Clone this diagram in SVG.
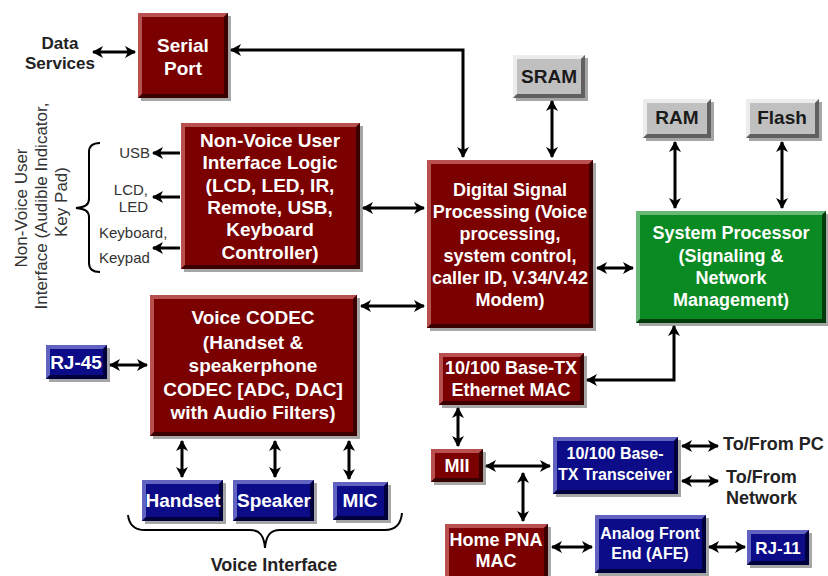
<svg xmlns="http://www.w3.org/2000/svg" width="828" height="576" viewBox="0 0 828 576">
<style>
text{font-family:"Liberation Sans",Arial,sans-serif}
.sh{fill:#000;opacity:.35}
.red{fill:#7b0000}.redL{fill:#b85050}.redD{fill:#3a0000}
.blue{fill:#0c0c88}.blueL{fill:#6262c0}.blueD{fill:#00003c}
.grn{fill:#0a8a22}.grnL{fill:#68b878}.grnD{fill:#003c0c}
.gry{fill:#c0c0c0}.gryL{fill:#ececec}.gryD{fill:#606060}
.w{fill:#fff;font-weight:bold;text-anchor:middle}
.k{fill:#1a1a1a;font-weight:bold;text-anchor:middle}
.lab{fill:#222;font-weight:bold}
.sm{fill:#333;font-size:15px}
.rot{fill:#333;font-size:17px;text-anchor:middle}
.c{fill:none;stroke:#000;stroke-width:3}
.b{fill:none;stroke:#000;stroke-width:2}
.two{marker-start:url(#ah);marker-end:url(#ah)}
.one{marker-end:url(#ah)}
</style>
<defs>
<marker id="ah" viewBox="0 0 11 12" refX="10" refY="6" markerWidth="11" markerHeight="12" markerUnits="userSpaceOnUse" orient="auto-start-reverse">
<path d="M0 0L11 6L0 12L3 6Z" fill="#000"/>
</marker>
</defs>
<rect width="828" height="576" fill="#fff"/>

<g id="connectors">
<path class="c two" d="M93 52H135"/>
<path class="c two" d="M231 50H463V157"/>
<path class="c one" d="M180 153H153"/>
<path class="c one" d="M180 197H153"/>
<path class="c one" d="M180 248H153"/>
<path class="c two" d="M363 208H424"/>
<path class="c two" d="M361 306H424"/>
<path class="c two" d="M552 101V157"/>
<path class="c two" d="M675 142V208"/>
<path class="c two" d="M782 142V208"/>
<path class="c two" d="M597 268H633"/>
<path class="c two" d="M110 365H147"/>
<path class="c two" d="M182 441V477"/>
<path class="c two" d="M275 441V477"/>
<path class="c two" d="M349 441V479"/>
<path class="c two" d="M587 380H674V326"/>
<path class="c two" d="M458 408V446"/>
<path class="c two" d="M486 466H550"/>
<path class="c two" d="M523 473V521"/>
<path class="c two" d="M682 446H718"/>
<path class="c two" d="M682 481H718"/>
<path class="c two" d="M552 547H592"/>
<path class="c two" d="M709 547H745"/>
</g>

<g id="braces">
<path class="b" d="M100 143C93 143 89 146 89 152V199C89 205 85 207 76 208C85 209 89 211 89 217V263C89 269 93 272 100 272"/>
<path class="b" d="M128 515C129 524 134 530 145 530H250C260 530 264 536 265 548C266 536 270 530 280 530H385C396 530 401 524 402 513"/>
</g>

<g id="labels">
<text class="lab" x="60" y="49" font-size="17" text-anchor="middle">Data</text>
<text class="lab" x="60" y="69" font-size="17" text-anchor="middle">Services</text>
<text class="sm" x="150" y="158" text-anchor="end">USB</text>
<text class="sm" x="148" y="195" text-anchor="end">LCD,</text>
<text class="sm" x="148" y="212" text-anchor="end">LED</text>
<text class="sm" x="99" y="238">Keyboard,</text>
<text class="sm" x="99" y="263">Keypad</text>
<text class="rot" transform="translate(27 208) rotate(-90)">Non-Voice User</text>
<text class="rot" transform="translate(47 206) rotate(-90)">Interface (Audible Indicator,</text>
<text class="rot" transform="translate(67 202) rotate(-90)">Key Pad)</text>
<text class="lab" x="274" y="571" font-size="18" text-anchor="middle">Voice Interface</text>
<text class="lab" x="723" y="450" font-size="18">To/From PC</text>
<text class="lab" x="726" y="483" font-size="18">To/From</text>
<text class="lab" x="726" y="504" font-size="18">Network</text>
</g>

<g id="serial-port">
<rect class="sh" x="141" y="16" width="90" height="85"/>
<rect class="red" x="138" y="13" width="90" height="85"/>
<path class="redL" d="M138 13h90l-4 4h-82v77l-4 4z"/><path class="redD" d="M228 13v85h-90l4-4h82v-77z"/>
<text class="w" x="183" y="52" font-size="19">Serial</text>
<text class="w" x="183" y="75" font-size="19">Port</text>
</g>

<g id="nvui-logic">
<rect class="sh" x="184" y="126" width="179" height="146"/>
<rect class="red" x="181" y="123" width="179" height="146"/>
<path class="redL" d="M181 123h179l-4 4h-171v138l-4 4z"/><path class="redD" d="M360 123v146h-179l4-4h171v-138z"/>
<text class="w" x="270" y="147" font-size="19">Non-Voice User</text>
<text class="w" x="270" y="169" font-size="19">Interface Logic</text>
<text class="w" x="270" y="192" font-size="19">(LCD, LED, IR,</text>
<text class="w" x="270" y="214" font-size="19">Remote, USB,</text>
<text class="w" x="270" y="236" font-size="19">Keyboard</text>
<text class="w" x="270" y="259" font-size="19">Controller)</text>
</g>

<g id="dsp">
<rect class="sh" x="430" y="163" width="166" height="168"/>
<rect class="red" x="427" y="160" width="166" height="168"/>
<path class="redL" d="M427 160h166l-4 4h-158v160l-4 4z"/><path class="redD" d="M593 160v168h-166l4-4h158v-160z"/>
<text class="w" x="510" y="196" font-size="18">Digital Signal</text>
<text class="w" x="510" y="218" font-size="18">Processing (Voice</text>
<text class="w" x="510" y="240" font-size="18">processing,</text>
<text class="w" x="510" y="262" font-size="18">system control,</text>
<text class="w" x="510" y="284" font-size="18">caller ID, V.34/V.42</text>
<text class="w" x="510" y="306" font-size="18">Modem)</text>
</g>

<g id="sram">
<rect class="sh" x="516" y="58" width="72" height="43"/>
<rect class="gry" x="513" y="55" width="72" height="43"/>
<path class="gryL" d="M513 55h72l-4 4h-64v35l-4 4z"/><path class="gryD" d="M585 55v43h-72l4-4h64v-35z"/>
<text class="k" x="549" y="83" font-size="19">SRAM</text>
</g>

<g id="ram">
<rect class="sh" x="646" y="102" width="68" height="39"/>
<rect class="gry" x="643" y="99" width="68" height="39"/>
<path class="gryL" d="M643 99h68l-4 4h-60v31l-4 4z"/><path class="gryD" d="M711 99v39h-68l4-4h60v-31z"/>
<text class="k" x="677" y="124" font-size="19">RAM</text>
</g>

<g id="flash">
<rect class="sh" x="749" y="102" width="73" height="39"/>
<rect class="gry" x="746" y="99" width="73" height="39"/>
<path class="gryL" d="M746 99h73l-4 4h-65v31l-4 4z"/><path class="gryD" d="M819 99v39h-73l4-4h65v-31z"/>
<text class="k" x="782" y="124" font-size="19">Flash</text>
</g>

<g id="system-processor">
<rect class="sh" x="639" y="214" width="189" height="112"/>
<rect class="grn" x="636" y="211" width="190" height="112"/>
<path class="grnL" d="M636 211h190l-4 4h-182v104l-4 4z"/><path class="grnD" d="M826 211v112h-190l4-4h182v-104z"/>
<text class="w" x="731" y="239" font-size="18">System Processor</text>
<text class="w" x="731" y="262" font-size="18">(Signaling &amp;</text>
<text class="w" x="731" y="284" font-size="18">Network</text>
<text class="w" x="731" y="306" font-size="18">Management)</text>
</g>

<g id="voice-codec">
<rect class="sh" x="153" y="298" width="207" height="141"/>
<rect class="red" x="150" y="295" width="207" height="141"/>
<path class="redL" d="M150 295h207l-4 4h-199v133l-4 4z"/><path class="redD" d="M357 295v141h-207l4-4h199v-133z"/>
<text class="w" x="253" y="324" font-size="19">Voice CODEC</text>
<text class="w" x="253" y="349" font-size="19">(Handset &amp;</text>
<text class="w" x="253" y="372" font-size="19">speakerphone</text>
<text class="w" x="253" y="396" font-size="19">CODEC [ADC, DAC]</text>
<text class="w" x="253" y="419" font-size="19">with Audio Filters)</text>
</g>

<g id="rj-45">
<rect class="sh" x="49" y="348" width="61" height="34"/>
<rect class="blue" x="46" y="345" width="61" height="34"/>
<path class="blueL" d="M46 345h61l-4 4h-53v26l-4 4z"/><path class="blueD" d="M107 345v34h-61l4-4h53v-26z"/>
<text class="w" x="76" y="369" font-size="19">RJ-45</text>
</g>

<g id="handset">
<rect class="sh" x="145" y="483" width="81" height="41"/>
<rect class="blue" x="142" y="480" width="81" height="41"/>
<path class="blueL" d="M142 480h81l-4 4h-73v33l-4 4z"/><path class="blueD" d="M223 480v41h-81l4-4h73v-33z"/>
<text class="w" x="183" y="507" font-size="19">Handset</text>
</g>

<g id="speaker">
<rect class="sh" x="236" y="483" width="81" height="41"/>
<rect class="blue" x="233" y="480" width="81" height="41"/>
<path class="blueL" d="M233 480h81l-4 4h-73v33l-4 4z"/><path class="blueD" d="M314 480v41h-81l4-4h73v-33z"/>
<text class="w" x="274" y="507" font-size="19">Speaker</text>
</g>

<g id="mic">
<rect class="sh" x="336" y="485" width="55" height="38"/>
<rect class="blue" x="333" y="482" width="55" height="38"/>
<path class="blueL" d="M333 482h55l-4 4h-47v30l-4 4z"/><path class="blueD" d="M388 482v38h-55l4-4h47v-30z"/>
<text class="w" x="360" y="507" font-size="19">MIC</text>
</g>

<g id="ethernet-mac">
<rect class="sh" x="442" y="356" width="145" height="52"/>
<rect class="red" x="439" y="353" width="145" height="52"/>
<path class="redL" d="M439 353h145l-4 4h-137v44l-4 4z"/><path class="redD" d="M584 353v52h-145l4-4h137v-44z"/>
<text class="w" x="511" y="374" font-size="18">10/100 Base-TX</text>
<text class="w" x="511" y="396" font-size="18">Ethernet MAC</text>
</g>

<g id="mii">
<rect class="sh" x="434" y="452" width="52" height="33"/>
<rect class="red" x="431" y="449" width="52" height="33"/>
<path class="redL" d="M431 449h52l-4 4h-44v25l-4 4z"/><path class="redD" d="M483 449v33h-52l4-4h44v-25z"/>
<text class="w" x="457" y="472" font-size="18">MII</text>
</g>

<g id="transceiver">
<rect class="sh" x="556" y="440" width="125" height="57"/>
<rect class="blue" x="553" y="437" width="125" height="57"/>
<path class="blueL" d="M553 437h125l-4 4h-117v49l-4 4z"/><path class="blueD" d="M678 437v57h-125l4-4h117v-49z"/>
<text class="w" x="615" y="459" font-size="16">10/100 Base-</text>
<text class="w" x="615" y="480" font-size="16">TX Transceiver</text>
</g>

<g id="home-pna-mac">
<rect class="sh" x="448" y="527" width="103" height="56"/>
<rect class="red" x="445" y="524" width="103" height="56"/>
<path class="redL" d="M445 524h103l-4 4h-95v48l-4 4z"/><path class="redD" d="M548 524v56h-103l4-4h95v-48z"/>
<text class="w" x="496" y="546" font-size="18">Home PNA</text>
<text class="w" x="496" y="567" font-size="18">MAC</text>
</g>

<g id="afe">
<rect class="sh" x="598" y="518" width="111" height="58"/>
<rect class="blue" x="595" y="515" width="111" height="58"/>
<path class="blueL" d="M595 515h111l-4 4h-103v50l-4 4z"/><path class="blueD" d="M706 515v58h-111l4-4h103v-50z"/>
<text class="w" x="650" y="539" font-size="16">Analog Front</text>
<text class="w" x="650" y="559" font-size="16">End (AFE)</text>
</g>

<g id="rj-11">
<rect class="sh" x="750" y="533" width="62" height="35"/>
<rect class="blue" x="747" y="530" width="62" height="35"/>
<path class="blueL" d="M747 530h62l-4 4h-54v27l-4 4z"/><path class="blueD" d="M809 530v35h-62l4-4h54v-27z"/>
<text class="w" x="778" y="554" font-size="17">RJ-11</text>
</g>
</svg>
